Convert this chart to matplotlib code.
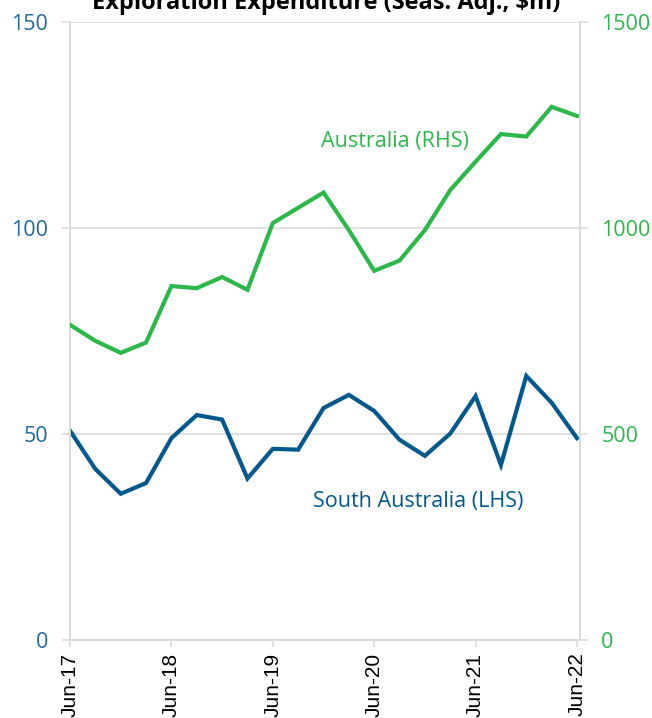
import matplotlib.pyplot as plt

plt.rcParams['font.family'] = ['Open Sans', 'DejaVu Sans']

# Quarterly data, Jun-17 to Jun-22
quarters = ['Jun-17', 'Sep-17', 'Dec-17', 'Mar-18', 'Jun-18', 'Sep-18', 'Dec-18',
            'Mar-19', 'Jun-19', 'Sep-19', 'Dec-19', 'Mar-20', 'Jun-20', 'Sep-20',
            'Dec-20', 'Mar-21', 'Jun-21', 'Sep-21', 'Dec-21', 'Mar-22', 'Jun-22']
south_australia = [50.8, 41.5, 35.5, 38.1, 49.0, 54.6, 53.5, 39.2, 46.4, 46.2, 56.3,
                   59.5, 55.6, 48.6, 44.7, 50.1, 59.2, 42.5, 64.1, 57.6, 49.0]
australia = [765, 726, 697, 722, 859, 854, 881, 850, 1012, 1049, 1086,
             995, 896, 921, 995, 1092, 1161, 1228, 1222, 1294, 1272]
tick_labels = ['Jun-17', 'Jun-18', 'Jun-19', 'Jun-20', 'Jun-21', 'Jun-22']

blue = '#00598C'
green = '#2DB84B'
grid_col = '#DCDCDC'

fig = plt.figure(figsize=(6.52, 7.18), dpi=100)
ax = fig.add_axes([0.1074, 0.1086, 0.7822, 0.8608])
ax2 = ax.twinx()

x = list(range(len(quarters)))
ax.plot(x, south_australia, color=blue, lw=3, solid_joinstyle='miter', zorder=3)
ax2.plot(x, australia, color=green, lw=3, solid_joinstyle='miter', zorder=3)

ax.set_xlim(0, 20.12)
ax.set_ylim(0, 150)
ax2.set_ylim(0, 1500)
ax.set_yticks([0, 50, 100, 150])
ax2.set_yticks([0, 500, 1000, 1500])

ax.grid(axis='y', color=grid_col, lw=1.2)
ax.set_axisbelow(True)

for a in (ax, ax2):
    for s in a.spines.values():
        s.set_color(grid_col)
        s.set_linewidth(1.2)
    a.spines['top'].set_visible(False)

ax.tick_params(axis='y', length=5.8, color=grid_col, width=1.2, labelsize=15.5,
               labelcolor='#1F6A9A', pad=10)
ax2.tick_params(axis='y', length=5.8, color=grid_col, width=1.2, labelsize=15.5,
                labelcolor=green, pad=9.4)
ax.set_xticks([quarters.index(t) for t in tick_labels])
ax.set_xticklabels(tick_labels, rotation=90, family=['Liberation Sans', 'DejaVu Sans'])
ax.tick_params(axis='x', length=5, color=grid_col, width=1.2, labelsize=15,
               labelcolor='black', pad=4)

ax2.text(12.82, 1209, 'Australia (RHS)', color=green, fontsize=15.5, ha='center', va='center')
ax.text(13.75, 33.6, 'South Australia (LHS)', color=blue, fontsize=15.5, ha='center', va='center')

fig.text(0.5, 0.987, 'Exploration Expenditure (Seas. Adj., $m)', ha='center',
         va='baseline', fontsize=17, fontweight='bold')

fig.savefig('out.png', dpi=100)
